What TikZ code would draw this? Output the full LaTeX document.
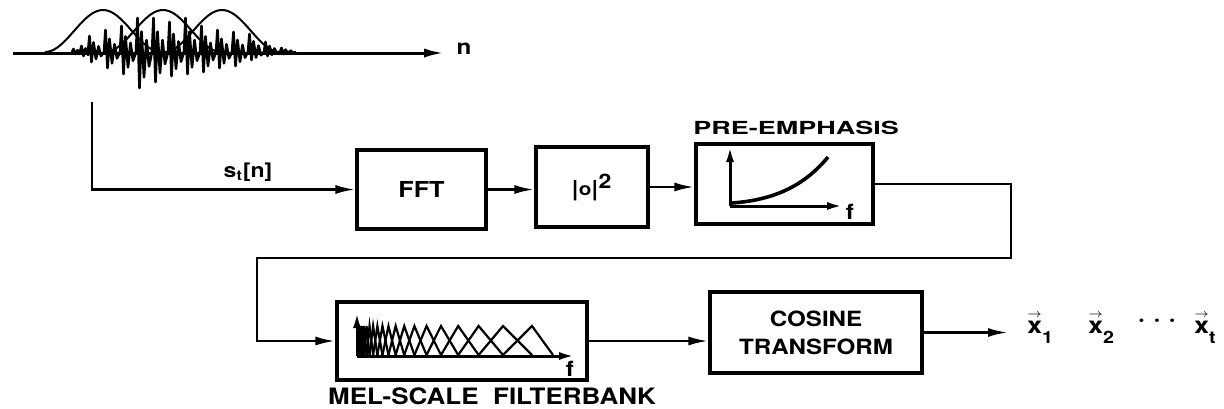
\documentclass[tikz,border=0pt]{standalone}
\usepackage{fontspec}
\usetikzlibrary{arrows.meta}
\newfontfamily\hv[FakeStretch=1.15]{TeX Gyre Heros}
\newfontfamily\hvw[FakeStretch=1.5]{TeX Gyre Heros}
\newcommand\vecx[1]{\hv\bfseries\ooalign{x\cr\hidewidth\raisebox{8pt}{\fontsize{6}{6}\selectfont$\boldsymbol{\rightarrow}$}\hidewidth\cr}\raisebox{-5pt}{\fontsize{8.5}{9}\selectfont\hv\bfseries #1}}
\providecommand\boldsymbol[1]{#1}
\tikzset{
  blk/.style={draw, line width=1.6pt, inner sep=0pt, font=\hv\bfseries\fontsize{11}{13}\selectfont, align=center},
  conn/.style={line width=1.3pt, -{Latex[length=10pt,width=4.5pt]}},
  lbl/.style={inner sep=0pt, font=\hv\bfseries\fontsize{10.5}{12}\selectfont},
  axis/.style={line width=1.5pt, -{Latex[length=8pt,width=4pt]}},
  sig/.style={line width=1.3pt, line join=round},
  win/.style={line width=1pt},
}
\begin{document}
\begin{tikzpicture}[x=0.5pt,y=-0.5pt]
\useasboundingbox (0,0) rectangle (1224,408);

% ---------- waveform ----------
\node[lbl] (nlbl) at (464,49) {n};
\coordinate (w0) at (13,53);
\draw[line width=1.5pt, -{Latex[length=10pt,width=4.5pt]}] (w0) -- ([xshift=-6pt]w0 -| nlbl.west);
\foreach \c in {103,163,222}
  \draw[win, domain=-58:58, samples=41, variable=\t] plot ({\c+\t},{52-21*(1+cos(180/58*\t))});
\foreach \p/\A/\B in {72/3/2, 80/6/4, 88/16/10, 104/22/16, 120/26/22, 136/34/36, 152/34/30, 168/30/24, 184/34/22, 200/26/20, 216/22/16, 232/20/14, 248/18/8, 264/10/4, 280/4/2}
  \draw[sig] (\p,52) -- ({\p+1.5},{52-\A}) -- ({\p+3.5},{52+\B}) -- ({\p+5.5},{52-0.6*\A}) -- ({\p+8},{52+0.7*\B}) -- ({\p+10.5},{52-0.35*\A}) -- ({\p+13},{52+0.4*\B}) -- ({\p+16},52);

% ---------- boxes ----------
\node[blk, minimum width=64.5pt, minimum height=39.5pt] (fft) at (421.5,189.5) {FFT};
\node[blk, minimum width=56pt, minimum height=40pt] (sq) at (592,187) {|\raisebox{0.5pt}{\fontsize{9}{9}\selectfont o}|\textsuperscript{\fontsize{10}{10}\selectfont 2}};
\node[blk, minimum width=88.5pt, minimum height=40pt] (pre) at (784.5,184) {};
\node[lbl, font=\hvw\bfseries\fontsize{9}{11}\selectfont] (prelbl) at (796,128) {PRE-EMPHASIS};
\node[blk, minimum width=125pt, minimum height=39pt] (mel) at (462,341) {};
\node[lbl, font=\hv\bfseries\fontsize{11.3}{13}\selectfont] (mellbl) at (492,396) {MEL-SCALE\ \ FILTERBANK};
\node[blk, minimum width=106pt, minimum height=40.5pt, font=\hv\bfseries\fontsize{10.5}{14}\selectfont] (cos) at (816,332.5) {COSINE\\TRANSFORM};

% ---------- pre-emphasis sketch ----------
\draw[axis] (730,206) -- (730,146);
\draw[axis] (730,206) -- (843,206);
\node[lbl] (pref) at (850,212) {f};
\draw[line width=1.8pt] (732,203) .. controls (775,200) and (805,185) .. (828,157);

% ---------- mel filterbank sketch ----------
\foreach \j in {0,...,18} {
  \pgfmathsetmacro\pc{532-181.25*(1-0.84^\j)}
  \pgfmathsetmacro\pr{ifthenelse(\j==0,553,532-181.25*(1-0.84^(\j-1)))}
  \pgfmathsetmacro\pl{max(357,532-181.25*(1-0.84^(\j+1)))}
  \draw[line width=1.1pt] (\pl,355) -- (\pc,326) -- (\pr,355);
}
\draw[axis] (357,356) -- (357,312);
\draw[axis] (357,356) -- (575,356);
\node[lbl] (melf) at (570,369) {f};

% ---------- signal path ----------
\coordinate (src) at (92,102);
\node[lbl, font=\hv\bfseries\fontsize{10}{12}\selectfont] (slbl) at (248,172) {s\textsubscript{t}[n]};
\draw[conn] (src) |- (fft.west);
\draw[conn] (fft.east) -- (fft.east -| sq.west);
\draw[conn] (sq.east) -- (sq.east -| pre.west);
\coordinate (r1) at (1011,258);
\coordinate (r2) at (257,258);
\draw[conn] (pre.east) -| (r1) -- (r2) |- (mel.west);
\draw[conn] (mel.east) -- (mel.east -| cos.west);

% ---------- outputs ----------
\node[anchor=base west, inner sep=0pt, font=\fontsize{11.5}{13}\selectfont] (x1) at (1027,333) {\vecx{1}};
\node[anchor=base west, inner sep=0pt, font=\fontsize{11.5}{13}\selectfont] (x2) at (1088,333) {\vecx{2}};
\node[inner sep=0pt, font=\hv\bfseries\fontsize{11.5}{13}\selectfont] (xd) at (1157,323) {·\hspace{4pt}·\hspace{4pt}·};
\node[anchor=base west, inner sep=0pt, font=\fontsize{11.5}{13}\selectfont] (xt) at (1194,333) {\vecx{t}};
\coordinate (xo) at (1008,332);
\draw[conn] (cos.east) -- (cos.east -| xo);
\end{tikzpicture}
\end{document}
